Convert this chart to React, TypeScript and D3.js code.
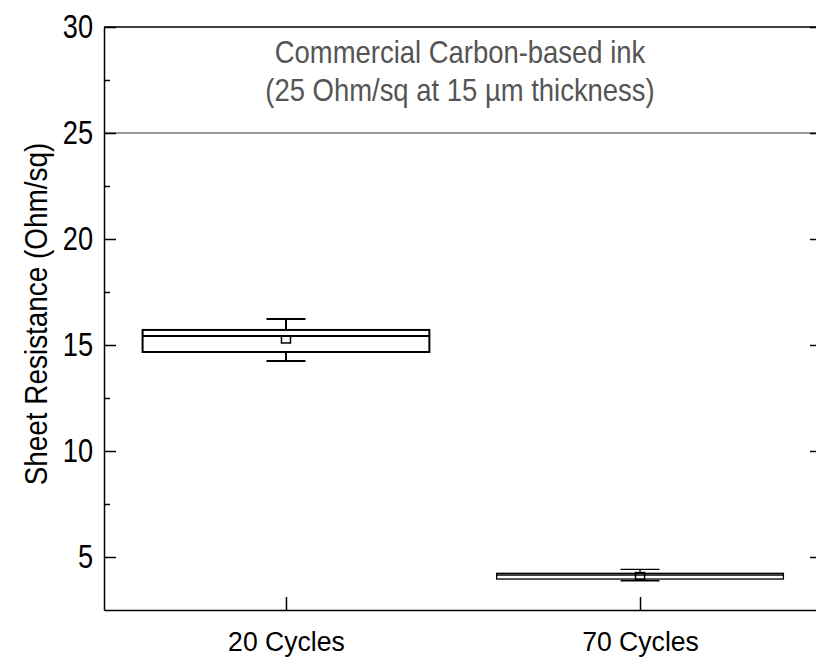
// App.tsx
// box plot of sheet resistance for two print cycle counts, drawn with d3
import * as d3 from 'd3';
import React, { useRef, useEffect } from 'react';

const categories = ["20 Cycles", "70 Cycles"];
const whiskerLow = [14.25, 3.88];
const q1 = [14.67, 3.96];
const median = [15.42, 4.15];
const q3 = [15.71, 4.23];
const whiskerHigh = [16.23, 4.42];
const means = [15.26, 4.1];

const yDomain = [2.5, 30];
const majorTicks = [5, 10, 15, 20, 25, 30];
const minorTicks = [7.5, 12.5, 17.5, 22.5, 27.5];
const referenceValue = 25;
const titleLines = ["Commercial Carbon-based ink", "(25 Ohm/sq at 15 \u00b5m thickness)"];
const yLabel = "Sheet Resistance (Ohm/sq)";

const FONT = "'Liberation Sans', Arial, Helvetica, sans-serif";

function BoxChart({ width, height }: { width: number; height: number }) {
    const ref = useRef<SVGSVGElement>(null);

    useEffect(() => {
        const svg = d3.select(ref.current);
        svg.selectAll("*").remove();

        const left = 104, right = 822, top = 27, bottom = 610;

        const y = d3.scaleLinear().domain(yDomain).range([bottom, top]);
        const x = d3.scalePoint<string>().domain(categories).range([left, right]).padding(0.514);

        // reference line at 25
        svg.append("line")
            .attr("x1", left).attr("x2", right)
            .attr("y1", y(referenceValue)).attr("y2", y(referenceValue))
            .attr("stroke", "#333").attr("stroke-width", 1.2);

        // top frame line
        svg.append("line")
            .attr("x1", left).attr("x2", right)
            .attr("y1", top).attr("y2", top)
            .attr("stroke", "#000").attr("stroke-width", 1.5);

        // left axis
        const yAxis = svg.append("g").attr("transform", "translate(" + left + ",0)")
            .call(d3.axisLeft(y).tickValues(majorTicks).tickSize(-12).tickSizeOuter(0).tickPadding(11).tickFormat(d3.format("d")));
        svg.append("g").attr("transform", "translate(" + left + ",0)")
            .call(d3.axisLeft(y).tickValues(minorTicks).tickSize(-6).tickSizeOuter(0).tickFormat(() => ""))
            .select(".domain").remove();

        // right axis (spine sits just past the visible edge)
        svg.append("g").attr("transform", "translate(" + right + ",0)")
            .call(d3.axisRight(y).tickValues(majorTicks).tickSize(-12).tickSizeOuter(0).tickFormat(() => ""));
        svg.append("g").attr("transform", "translate(" + right + ",0)")
            .call(d3.axisRight(y).tickValues(minorTicks).tickSize(-6).tickSizeOuter(0).tickFormat(() => ""))
            .select(".domain").remove();

        // bottom axis
        const xAxis = svg.append("g").attr("transform", "translate(0," + bottom + ")")
            .call(d3.axisBottom(x).tickSize(-13).tickSizeOuter(0).tickPadding(21));

        svg.selectAll(".domain").attr("stroke", "#000").attr("stroke-width", 1.5);
        svg.selectAll(".tick line").attr("stroke", "#000").attr("stroke-width", 1.5);

        const tickSquish = 0.8;
        yAxis.selectAll("text")
            .attr("font-family", FONT).attr("font-size", 34).attr("fill", "#000")
            .attr("x", -11 / tickSquish)
            .attr("transform", "scale(" + tickSquish + ",1)");

        xAxis.selectAll("text")
            .attr("font-family", FONT).attr("font-size", 28).attr("fill", "#000")
            .attr("transform", "scale(0.95,1)");

        // y label
        svg.append("text")
            .attr("transform", "translate(47," + 314 + ") rotate(-90) scale(0.915,1)")
            .attr("text-anchor", "middle")
            .attr("font-family", FONT).attr("font-size", 30.5).attr("fill", "#000")
            .text(yLabel);

        // annotation
        titleLines.forEach((line, i) => {
            svg.append("text")
                .attr("transform", "translate(" + 460 + "," + (63 + i * 37.5) + ") scale(0.9,1)")
                .attr("text-anchor", "middle")
                .attr("font-family", FONT).attr("font-size", 30.5).attr("fill", "#555")
                .text(line);
        });

        // boxes
        const boxW = x.step() * 0.81;
        const capW = x.step() * 0.11;
        const markSize = 9;

        categories.forEach((cat, i) => {
            const cx = x(cat) as number;
            const g = svg.append("g");
            const boxH = y(q1[i]) - y(q3[i]);
            const sw = boxH > 12 ? 2 : 1.3;

            // whiskers
            g.append("line").attr("x1", cx).attr("x2", cx)
                .attr("y1", y(whiskerHigh[i])).attr("y2", y(q3[i]))
                .attr("stroke", "#000").attr("stroke-width", sw);
            g.append("line").attr("x1", cx).attr("x2", cx)
                .attr("y1", y(q1[i])).attr("y2", y(whiskerLow[i]))
                .attr("stroke", "#000").attr("stroke-width", sw);
            [whiskerHigh[i], whiskerLow[i]].forEach(v => {
                g.append("line").attr("x1", cx - capW / 2).attr("x2", cx + capW / 2)
                    .attr("y1", y(v)).attr("y2", y(v))
                    .attr("stroke", "#000").attr("stroke-width", sw);
            });

            // box
            g.append("rect")
                .attr("x", cx - boxW / 2).attr("width", boxW)
                .attr("y", y(q3[i])).attr("height", boxH)
                .attr("fill", "#fff").attr("stroke", "#000").attr("stroke-width", sw);

            // median
            g.append("line").attr("x1", cx - boxW / 2).attr("x2", cx + boxW / 2)
                .attr("y1", y(median[i])).attr("y2", y(median[i]))
                .attr("stroke", "#000").attr("stroke-width", sw);

            // mean marker
            g.append("rect")
                .attr("x", cx - markSize / 2).attr("width", markSize)
                .attr("y", y(means[i]) - markSize / 2 + 1).attr("height", markSize - 2)
                .attr("fill", "none").attr("stroke", "#000").attr("stroke-width", 1.5);
        });
    }, []);

    return (
        <svg ref={ref} width={width} height={height}
            style={{ position: "absolute", left: 0, top: 0, background: "#fff" }} />
    );
}

export default function App() {
    return <BoxChart width={816} height={666} />;
}
